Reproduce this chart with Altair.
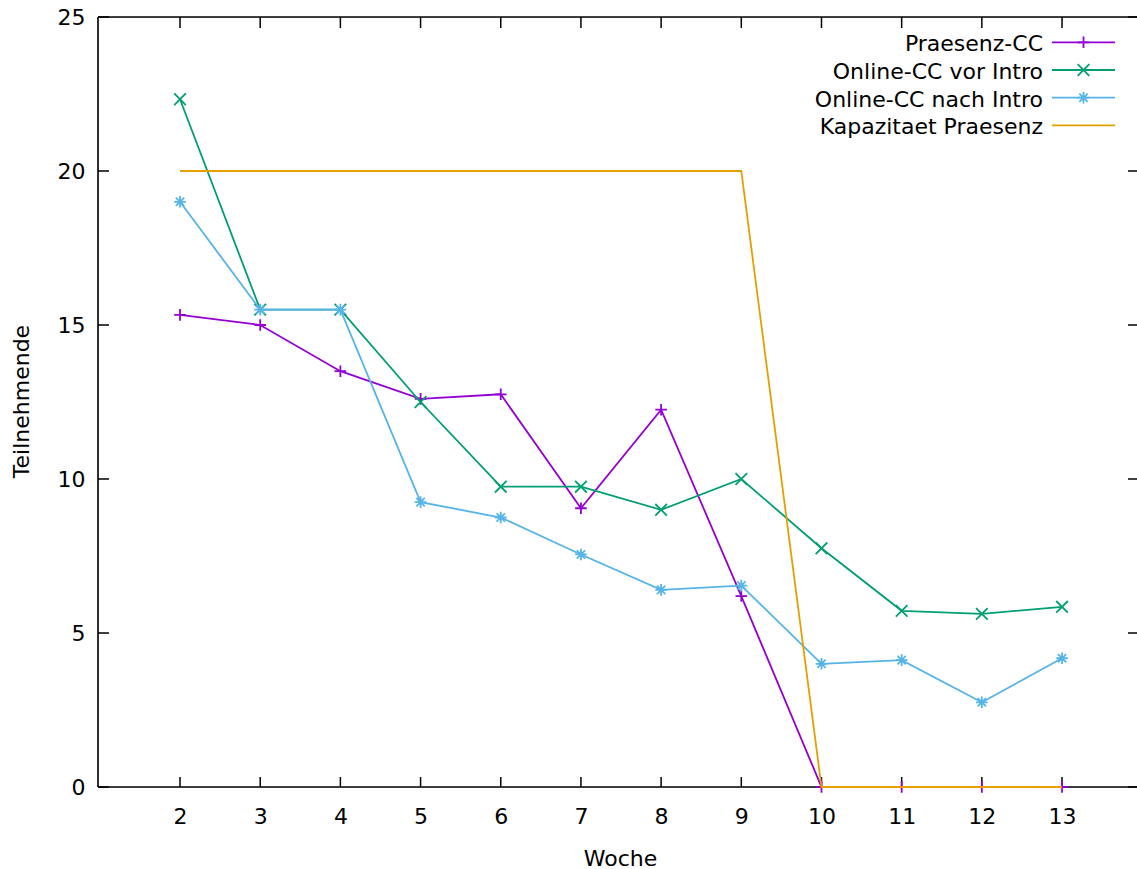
import altair as alt
import pandas as pd

weeks = [2, 3, 4, 5, 6, 7, 8, 9, 10, 11, 12, 13]
praesenz = [15.33, 15.0, 13.5, 12.6, 12.75, 9.05, 12.25, 6.2, 0, 0, 0, 0]
online_vor = [22.33, 15.5, 15.5, 12.5, 9.75, 9.75, 9.0, 10.0, 7.75, 5.72, 5.62, 5.85]
online_nach = [19.0, 15.5, 15.5, 9.25, 8.75, 7.55, 6.4, 6.54, 4.0, 4.12, 2.75, 4.18]
kapazitaet = [20, 20, 20, 20, 20, 20, 20, 20, 0, 0, 0, 0]

names = ["Praesenz-CC", "Online-CC vor Intro", "Online-CC nach Intro", "Kapazitaet Praesenz"]
colors = ["#9400d3", "#009e73", "#56b4e9", "#e69f00"]
series = [praesenz, online_vor, online_nach, kapazitaet]

xticks = list(range(2, 14))
yticks = [0, 5, 10, 15, 20, 25]

PLUS = "M-1,0L1,0M0,-1L0,1"
CROSS = "M-1,-1L1,1M-1,1L1,-1"
STAR = "M-1,0L1,0M0,-1L0,1M-0.72,-0.72L0.72,0.72M-0.72,0.72L0.72,-0.72"
shapes = [PLUS, CROSS, STAR, None]

W, H = 1039, 770
FONT = "DejaVu Sans"
FS = 22

xscale = alt.Scale(domain=[0.977, 13.935], nice=False, zero=False)
yscale = alt.Scale(domain=[0, 25], nice=False, zero=False)
xaxis = alt.Axis(values=xticks, title="Woche", domain=False, ticks=False, grid=False,
                 labelFont=FONT, labelFontSize=FS, labelColor="black", labelPadding=36,
                 labelBaseline="alphabetic", labelFlush=False, labelOverlap=False,
                 titleFont=FONT, titleFontSize=FS, titleFontWeight="normal", titleColor="black",
                 titleBaseline="alphabetic", titleX=522, titleY=78)
yaxis = alt.Axis(values=yticks, title="Teilnehmende", domain=False, ticks=False, grid=False,
                 labelFont=FONT, labelFontSize=FS, labelColor="black", labelPadding=13,
                 labelBaseline="middle", labelFlush=False, labelOverlap=False,
                 titleFont=FONT, titleFontSize=FS, titleFontWeight="normal", titleColor="black",
                 titleAngle=270, titleBaseline="alphabetic", titleX=-70, titleY=384)

def X(f):
    return alt.X(f, type="quantitative", scale=xscale, axis=xaxis)

def Y(f):
    return alt.Y(f, type="quantitative", scale=yscale, axis=yaxis)

layers = []

# frame lines
frame_df = pd.DataFrame({"d": [0]})
layers.append(alt.Chart(frame_df).mark_rule(color="black", strokeWidth=1.6).encode(
    x=alt.value(0), y=alt.value(0), y2=alt.value(H)))
layers.append(alt.Chart(frame_df).mark_rule(color="black", strokeWidth=1.6).encode(
    x=alt.value(0), x2=alt.value(W), y=alt.value(H)))
layers.append(alt.Chart(frame_df).mark_rule(color="black", strokeWidth=1.6).encode(
    x=alt.value(0), x2=alt.value(W), y=alt.value(0)))

# inward ticks
xt = pd.DataFrame({"w": xticks})
yt = pd.DataFrame({"v": yticks})
layers.append(alt.Chart(xt).mark_rule(color="black", strokeWidth=1.5).encode(
    x=X("w"), y=alt.value(H), y2=alt.value(H - 10)))
layers.append(alt.Chart(xt).mark_rule(color="black", strokeWidth=1.5).encode(
    x=X("w"), y=alt.value(0), y2=alt.value(11)))
layers.append(alt.Chart(yt).mark_rule(color="black", strokeWidth=1.5).encode(
    y=Y("v"), x=alt.value(0), x2=alt.value(11)))
layers.append(alt.Chart(yt).mark_rule(color="black", strokeWidth=1.5).encode(
    y=Y("v"), x=alt.value(W - 9), x2=alt.value(W)))

# series
for name, col, vals, shp in zip(names, colors, series, shapes):
    df = pd.DataFrame({"Woche": weeks, "Wert": vals, "Serie": name})
    layers.append(alt.Chart(df).mark_line(color=col, strokeWidth=1.8).encode(
        x=X("Woche"), y=Y("Wert")))
    if shp:
        layers.append(alt.Chart(df).mark_point(shape=shp, filled=False, color=col,
                                               strokeWidth=1.8, size=135, opacity=1).encode(
            x=X("Woche"), y=Y("Wert")))

# legend (gnuplot style: label right, sample on the right)
row_y = [25.3, 53.0, 80.7, 108.3]
for name, col, shp, ry in zip(names, colors, shapes, row_y):
    ldf = pd.DataFrame({"Serie": [name]})
    layers.append(alt.Chart(ldf).mark_text(font=FONT, fontSize=FS, align="right",
                                           baseline="alphabetic", color="black").encode(
        text="Serie:N", x=alt.value(945), y=alt.value(ry + 9)))
    layers.append(alt.Chart(ldf).mark_rule(color=col, strokeWidth=1.8).encode(
        x=alt.value(954), x2=alt.value(1017), y=alt.value(ry)))
    if shp:
        layers.append(alt.Chart(ldf).mark_point(shape=shp, filled=False, color=col,
                                                strokeWidth=1.8, size=135, opacity=1).encode(
            x=alt.value(985.5), y=alt.value(ry)))

chart = alt.layer(*layers).properties(
    width=W, height=H,
    autosize=alt.AutoSizeParams(type="none"),
    padding={"left": 98, "top": 17, "right": 0, "bottom": 82},
).configure_view(stroke=None).configure(background="white")

chart.save("out.html", embed_options={"renderer": "svg", "actions": False})
